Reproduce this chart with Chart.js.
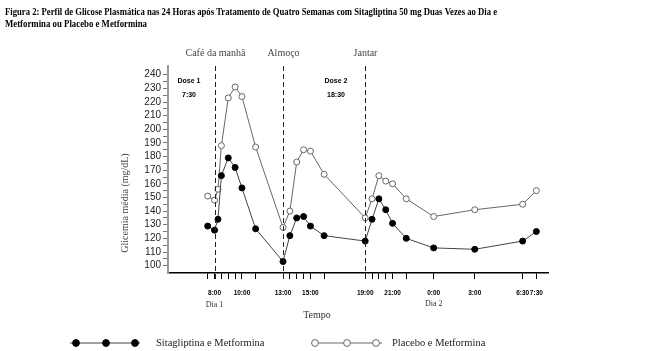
<!DOCTYPE html>
<html>
<head>
<meta charset="utf-8">
<script src="https://cdn.jsdelivr.net/npm/chart.js@4/dist/chart.umd.min.js"></script>
<style>
  html, body { margin: 0; padding: 0; background: #fff; }
  #wrap { width: 655px; height: 351px; }
</style>
</head>
<body>
<div id="wrap"><canvas id="glicoseChart" width="655" height="351"></canvas></div>
<script>
// horas desde 0:00 do dia 1 (24 = 0:00 do dia 2)
const tempos = [7.5, 8, 8.25, 8.5, 9, 9.5, 10, 11, 13, 13.5, 14, 14.5, 15, 16, 19, 19.5, 20, 20.5, 21, 22, 24, 27, 30.5, 31.5];
const sitagliptina = [129, 126, 134, 166, 179, 172, 157, 127, 103, 122, 135, 136, 129, 122, 118, 134, 149, 141, 131, 120, 113, 112, 118, 125];
const placebo = [151, 148, 156, 188, 223, 231, 224, 187, 128, 140, 176, 185, 184, 167, 135, 149, 166, 162, 160, 149, 136, 141, 145, 155];

// marcas do eixo x e quais recebem rotulo
const marcasX = [7.5, 8, 8.5, 9, 9.5, 10, 11, 13, 13.5, 14, 14.5, 15, 16, 19, 19.5, 20, 20.5, 21, 22, 24, 27, 30.5, 31.5];
const rotulosX = [8, 10, 13, 15, 19, 21, 24, 27, 30.5, 31.5];

// refeicoes (linhas tracejadas)
const refeicoes = ["Café da manhã", "Almoço", "Jantar"];
const horasRefeicao = [8, 13, 19];

const titulo1 = "Figura 2: Perfil de Glicose Plasmática nas 24 Horas após Tratamento de Quatro Semanas com Sitagliptina 50 mg Duas Vezes ao Dia e";
const titulo2 = "Metformina ou Placebo e Metformina";

function fmtHora(h) {
  const hh = Math.floor(h) % 24;
  const mm = Math.round((h - Math.floor(h)) * 60);
  return hh + ":" + (mm < 10 ? "0" + mm : mm);
}

// textos e legenda desenhados a mao
const extras = {
  id: "extras",
  afterDraw(chart) {
    const ctx = chart.ctx;
    const xs = chart.scales.x;
    const ca = chart.chartArea;
    ctx.save();

    // titulo
    ctx.fillStyle = "#000";
    ctx.font = "bold 11px 'Liberation Serif'";
    ctx.textBaseline = "middle";
    ctx.textAlign = "left";
    ctx.fillText(titulo1, 5, 12, 492);
    ctx.fillText(titulo2, 5, 24, 142);

    // linhas tracejadas e nomes das refeicoes
    ctx.strokeStyle = "#222";
    ctx.lineWidth = 1;
    ctx.setLineDash([5, 3]);
    horasRefeicao.forEach((h, i) => {
      const px = Math.round(xs.getPixelForValue(h)) + 0.5;
      ctx.beginPath();
      ctx.moveTo(px, ca.top);
      ctx.lineTo(px, ca.bottom + 7);
      ctx.stroke();
      ctx.fillStyle = "#444";
      ctx.font = "10px 'Liberation Serif'";
      ctx.textAlign = "center";
      ctx.fillText(refeicoes[i], px, 53);
    });
    ctx.setLineDash([]);

    // doses
    ctx.fillStyle = "#000";
    ctx.font = "bold 7px 'Liberation Sans'";
    ctx.textAlign = "center";
    ctx.fillText("Dose 1", 189, 81);
    ctx.fillText("7:30", 189, 95);
    ctx.fillText("Dose 2", 336, 81);
    ctx.fillText("18:30", 336, 95);

    // dias e eixo
    ctx.fillStyle = "#333";
    ctx.font = "8px 'Liberation Serif'";
    ctx.fillText("Dia 1", xs.getPixelForValue(8), 305);
    ctx.fillText("Dia 2", xs.getPixelForValue(24), 304);
    ctx.font = "10px 'Liberation Serif'";
    ctx.fillText("Tempo", 317, 315);

    // titulo do eixo y
    ctx.save();
    ctx.translate(125, 203);
    ctx.rotate(-Math.PI / 2);
    ctx.fillStyle = "#444";
    ctx.font = "10px 'Liberation Serif'";
    ctx.fillText("Glicemia média (mg/dL)", 0, 0);
    ctx.restore();

    // legenda
    const itens = [
      { x0: 70, x1: 140, marcas: [76, 106, 135], tx: 156, ds: chart.data.datasets[0] },
      { x0: 312, x1: 382, marcas: [315, 347, 376], tx: 392, ds: chart.data.datasets[1] }
    ];
    const ly = 343;
    itens.forEach((it) => {
      ctx.strokeStyle = it.ds.borderColor;
      ctx.lineWidth = 1;
      ctx.beginPath();
      ctx.moveTo(it.x0, ly);
      ctx.lineTo(it.x1, ly);
      ctx.stroke();
      it.marcas.forEach((mx) => {
        ctx.beginPath();
        ctx.arc(mx, ly, 3.4, 0, Math.PI * 2);
        ctx.fillStyle = it.ds.pointBackgroundColor;
        ctx.fill();
        ctx.strokeStyle = it.ds.pointBorderColor;
        ctx.stroke();
      });
      ctx.fillStyle = "#222";
      ctx.font = "10.5px 'Liberation Serif'";
      ctx.textAlign = "left";
      ctx.fillText(it.ds.label, it.tx, ly);
    });

    ctx.restore();
  }
};

const ctx = document.getElementById("glicoseChart").getContext("2d");
const glicoseChart = new Chart(ctx, {
  type: "line",
  data: {
    datasets: [
      {
        label: "Sitagliptina e Metformina",
        data: tempos.map((t, i) => ({ x: t, y: sitagliptina[i] })),
        borderColor: "#444",
        borderWidth: 1,
        pointBackgroundColor: "#000",
        pointBorderColor: "#000",
        pointRadius: 3,
        pointBorderWidth: 1,
        tension: 0
      },
      {
        label: "Placebo e Metformina",
        data: tempos.map((t, i) => ({ x: t, y: placebo[i] })),
        borderColor: "#666",
        borderWidth: 1,
        pointBackgroundColor: "#fff",
        pointBorderColor: "#666",
        pointRadius: 3,
        pointBorderWidth: 1,
        tension: 0
      }
    ]
  },
  options: {
    responsive: false,
    animation: false,
    layout: { padding: { left: 0, right: 107, top: 66, bottom: 0 } },
    plugins: {
      legend: { display: false },
      title: { display: false },
      tooltip: { enabled: false }
    },
    scales: {
      x: {
        type: "linear",
        min: 4.6,
        max: 32.35,
        afterFit: (s) => { s.height = 78; },
        afterBuildTicks: (s) => { s.ticks = marcasX.map((v) => ({ value: v })); },
        border: { display: true, color: "#000", width: 1.5 },
        grid: { drawOnChartArea: false, drawTicks: true, tickLength: 6, color: "#000" },
        ticks: {
          autoSkip: false,
          maxRotation: 0,
          padding: 10,
          color: "#000",
          font: { family: "'Liberation Sans'", size: 6.5, weight: "bold" },
          callback: (v) => (rotulosX.includes(v) ? fmtHora(v) : "")
        }
      },
      y: {
        min: 94.6,
        max: 246.4,
        afterFit: (s) => { s.width = 168; },
        afterBuildTicks: (s) => {
          const t = [];
          for (let v = 100; v <= 240; v += 5) t.push({ value: v });
          s.ticks = t;
        },
        border: { display: true, color: "#999", width: 2 },
        grid: { drawOnChartArea: false, drawTicks: true, tickLength: 5, color: "#777" },
        ticks: {
          autoSkip: false,
          padding: 2,
          color: "#222",
          font: { family: "'Liberation Sans'", size: 10 },
          callback: (v) => (v % 10 === 0 ? String(v) : "")
        }
      }
    }
  },
  plugins: [extras]
});
</script>
</body>
</html>
